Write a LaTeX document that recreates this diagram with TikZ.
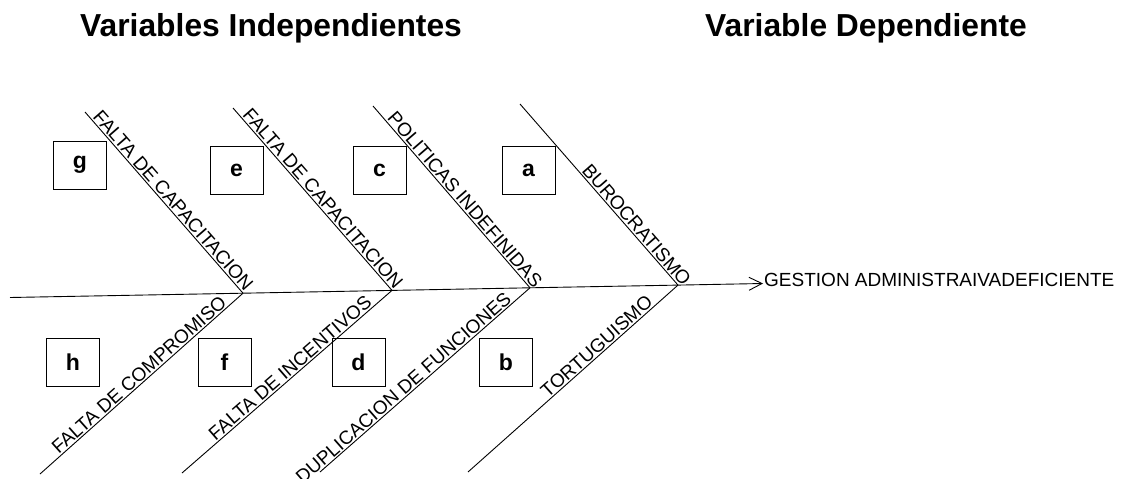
\documentclass[tikz,border=0pt]{standalone}
\usepackage{fontspec}
\setmainfont{Liberation Sans}
\usetikzlibrary{calc,arrows.meta}

\begin{document}
\begin{tikzpicture}[x=1pt,y=-1pt,
  bone/.style={draw=black, line width=0.9pt},
  causetxt/.style={font=\fontsize{19}{21}\selectfont, inner sep=1.5pt, sloped},
  tagbox/.style={draw=black, line width=1pt, minimum width=53pt, minimum height=48pt,
                 inner sep=0pt, font=\fontsize{23}{26}\selectfont\bfseries},
  header/.style={font=\fontsize{31.8}{34}\selectfont\bfseries, anchor=base west, inner sep=0pt}]
\useasboundingbox (0,0) rectangle (1125,479);

% titles
\node[header] (hind) at (80,36) {Variables Independientes};
\node[header] (hdep) at (705,36) {Variable Dependiente};

% spine and its junctions
\coordinate (s0) at (10,297.5);
\coordinate (j1) at (243,293.2);
\coordinate (j2) at (392,290.4);
\coordinate (j3) at (530,287.8);
\coordinate (j4) at (678,285.1);
\coordinate (tip) at (763,283.5);

% outer ends of the bones
\coordinate (gt) at (85,112);
\coordinate (et) at (233,108);
\coordinate (ct) at (373,106);
\coordinate (at) at (520,104);
\coordinate (hb) at (40,474);
\coordinate (fb) at (182,473);
\coordinate (db) at (320,472);
\coordinate (bb) at (468,472);

% effect
\node[anchor=west, inner sep=1pt, font=\fontsize{19}{21}\selectfont] (eff)
  at ($(tip)+(0,-4)$) {GESTION ADMINISTRAIVADEFICIENTE};
\draw[bone, -{Straight Barb[length=13pt,width=13pt,line width=0.9pt]}]
  (s0) -- (j1) -- (j2) -- (j3) -- (j4) -- (tip);

% upper bones
\draw[bone] (gt) -- (j1);
\draw[bone] (et) -- (j2);
\draw[bone] (ct) -- (j3);
\draw[bone] (at) -- (j4);
\path (gt) -- ($(j1)!-2pt!(gt)$) node[causetxt, pos=1, anchor=south east] (tg) {FALTA DE CAPACITACION};
\path (et) -- ($(j2)!-3pt!(et)$) node[causetxt, pos=1, anchor=south east] (te) {FALTA DE CAPACITACION};
\path (ct) -- ($(j3)!-5pt!(ct)$) node[causetxt, pos=1, anchor=south east] (tc) {POLITICAS INDEFINIDAS};
\path (at) -- ($(j4)!-6pt!(at)$) node[causetxt, pos=1, anchor=south east] (ta) {BUROCRATISMO};

% lower bones
\draw[bone] (j1) -- (hb);
\draw[bone] (j2) -- (fb);
\draw[bone] (j3) -- (db);
\draw[bone] (j4) -- (bb);
\path (hb) -- ($(j1)!17pt!(hb)$) node[causetxt, pos=1, anchor=south east] (th) {FALTA DE COMPROMISO};
\path (fb) -- ($(j2)!22pt!(fb)$) node[causetxt, pos=1, anchor=south east] (tf) {FALTA DE INCENTIVOS};
\path (db) -- ($(j3)!20pt!(db)$) node[causetxt, pos=1, anchor=south east] (td) {DUPLICACION DE FUNCIONES};
\path (bb) -- ($(j4)!29pt!(bb)$) node[causetxt, pos=1, anchor=south east] (tb) {TORTUGUISMO};

% letter tags
\node[tagbox] (bg) at (80,165) {g};
\node[tagbox] (be) at (236.5,170) {e};
\node[tagbox] (bc) at (379.5,170) {c};
\node[tagbox] (ba) at (528.5,170) {a};
\node[tagbox] (bh) at (73,362) {h};
\node[tagbox] (bf) at (224.5,362) {f};
\node[tagbox] (bd) at (358.5,362) {d};
\node[tagbox] (bbx) at (506,362) {b};
\end{tikzpicture}
\end{document}
